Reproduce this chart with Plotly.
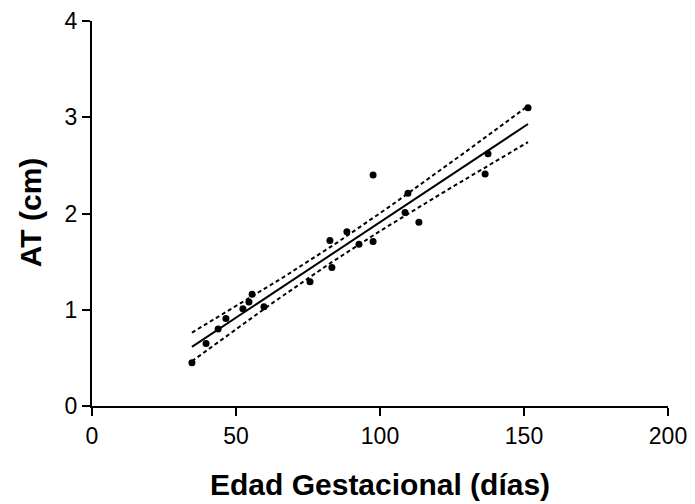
import numpy as np
import plotly.graph_objects as go

# Data
edad_dias = [34.7, 39.6, 43.8, 46.5, 52.4, 54.5, 55.6, 59.7, 75.7, 82.6, 83.3,
             88.5, 92.7, 97.6, 97.6, 108.7, 109.7, 113.5, 136.5, 137.5, 151.4]
at_cm = [0.45, 0.65, 0.80, 0.91, 1.01, 1.08, 1.16, 1.03, 1.29, 1.72, 1.44,
         1.81, 1.68, 2.40, 1.71, 2.01, 2.21, 1.91, 2.41, 2.62, 3.10]
x_ticks = [0, 50, 100, 150, 200]
y_ticks = [0, 1, 2, 3, 4]
x_title = "Edad Gestacional (días)"
y_title = "AT (cm)"

x = np.array(edad_dias)
y = np.array(at_cm)
n = len(x)
slope, intercept = np.polyfit(x, y, 1)
resid = y - (slope * x + intercept)
s = np.sqrt(np.sum(resid ** 2) / (n - 2))
sxx = np.sum((x - x.mean()) ** 2)
t_crit = 2.093  # t(0.975, df=19)

xf = np.linspace(x.min(), x.max(), 100)
yf = slope * xf + intercept
hw = t_crit * s * np.sqrt(1.0 / n + (xf - x.mean()) ** 2 / sxx)

fig = go.Figure()
fig.add_trace(go.Scatter(x=xf, y=yf + hw, mode="lines",
                         line=dict(color="black", width=2, dash="4px,3px"),
                         showlegend=False, hoverinfo="skip"))
fig.add_trace(go.Scatter(x=xf, y=yf - hw, mode="lines",
                         line=dict(color="black", width=2, dash="4px,3px"),
                         showlegend=False, hoverinfo="skip"))
fig.add_trace(go.Scatter(x=xf, y=yf, mode="lines",
                         line=dict(color="black", width=2),
                         showlegend=False))
fig.add_trace(go.Scatter(x=edad_dias, y=at_cm, mode="markers",
                         marker=dict(color="black", size=7),
                         showlegend=False))

font_family = "Liberation Sans, Arial, sans-serif"
fig.update_layout(
    width=687, height=496,
    margin=dict(l=84, r=27, t=13, b=98),
    plot_bgcolor="white", paper_bgcolor="white",
    font=dict(family=font_family, color="black", size=18),
    xaxis=dict(range=[0, 200], tickvals=x_ticks, showline=True, linecolor="black",
               linewidth=2, ticks="outside", ticklen=8, tickwidth=2, tickcolor="black",
               showgrid=False, zeroline=False, tickfont=dict(size=23),
               automargin=False),
    yaxis=dict(range=[0, 4], tickvals=y_ticks, showline=True, linecolor="black",
               linewidth=2, ticks="outside", ticklen=8, tickwidth=2, tickcolor="black",
               showgrid=False, zeroline=False, tickfont=dict(size=23),
               automargin=False),
    annotations=[
        dict(text="<b>" + x_title + "</b>", xref="paper", yref="paper",
             x=0.5, y=-0.2026, xanchor="center", yanchor="middle",
             showarrow=False, font=dict(size=30)),
        dict(text="<b>" + y_title + "</b>", xref="paper", yref="paper",
             x=-0.1076, y=0.501, xanchor="center", yanchor="middle",
             textangle=-90, showarrow=False, font=dict(size=30)),
    ],
)

fig.write_html("out.html")
